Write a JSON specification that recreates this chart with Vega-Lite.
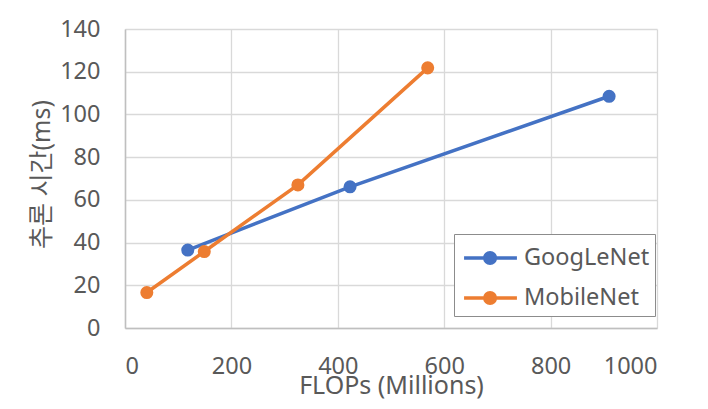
{
  "$schema": "https://vega.github.io/schema/vega-lite/v6.json",
  "width": 532,
  "height": 299,
  "autosize": "none",
  "padding": {"left": 125, "top": 29, "right": 51, "bottom": 81},
  "background": "white",
  "data": {
    "values": [
      {"model": "GoogLeNet", "flops": 118, "ms": 36.5},
      {"model": "GoogLeNet", "flops": 423, "ms": 66.1},
      {"model": "GoogLeNet", "flops": 910, "ms": 108.5},
      {"model": "MobileNet", "flops": 41, "ms": 16.6},
      {"model": "MobileNet", "flops": 149, "ms": 35.8},
      {"model": "MobileNet", "flops": 325, "ms": 67.0},
      {"model": "MobileNet", "flops": 569, "ms": 121.8}
    ]
  },
  "encoding": {
    "x": {
      "field": "flops",
      "type": "quantitative",
      "title": "FLOPs (Millions)",
      "scale": {"domain": [0, 1000], "nice": false},
      "axis": {
        "values": [0, 200, 400, 600, 800, 1000],
        "format": "d",
        "labelPadding": 26,
        "titleY": 65,
        "titleBaseline": "alphabetic"
      }
    },
    "y": {
      "field": "ms",
      "type": "quantitative",
      "title": "추론 시간(ms)",
      "scale": {"domain": [0, 140], "nice": false},
      "axis": {
        "values": [0, 20, 40, 60, 80, 100, 120, 140],
        "format": "d",
        "labelPadding": 25,
        "titleX": -76,
        "titleY": 145,
        "titleBaseline": "alphabetic"
      }
    },
    "color": {
      "field": "model",
      "type": "nominal",
      "scale": {"domain": ["GoogLeNet", "MobileNet"], "range": ["#4472C4", "#ED7D31"]},
      "legend": {
        "title": null,
        "orient": "none",
        "legendX": 329,
        "legendY": 205,
        "direction": "vertical",
        "padding": 5,
        "fillColor": "white",
        "strokeColor": "#8c8c8c",
        "symbolType": "M-0.82,0H0.4A0.31,0.31,0,1,1,1.02,0A0.31,0.31,0,1,1,0.4,0M1.02,0H2.29",
        "symbolSize": 1156,
        "symbolStrokeWidth": 3.5,
        "symbolOpacity": 1,
        "labelFontSize": 23.5,
        "labelColor": "#595959",
        "labelFont": "Noto Sans",
        "labelOffset": 27,
        "rowPadding": 8,
        "encode": {
          "symbols": {
            "update": {
              "fill": {"signal": "scale('color', datum.value)"},
              "stroke": {"signal": "scale('color', datum.value)"}
            }
          }
        }
      }
    }
  },
  "layer": [
    {
      "mark": {"type": "line", "strokeWidth": 3.5}
    },
    {
      "mark": {"type": "point", "filled": true, "opacity": 1, "size": 170}
    }
  ],
  "config": {
    "view": {"stroke": null},
    "font": "Noto Sans, Noto Sans CJK KR",
    "axis": {
      "grid": true,
      "gridColor": "#d9d9d9",
      "gridWidth": 1.3,
      "domainColor": "#bfbfbf",
      "domainWidth": 1.5,
      "ticks": false,
      "labelFont": "Noto Sans",
      "labelFontSize": 23.5,
      "labelColor": "#595959",
      "titleFont": "Noto Sans, Noto Sans CJK KR",
      "titleFontSize": 25,
      "titleFontWeight": "normal",
      "titleColor": "#595959"
    }
  }
}
